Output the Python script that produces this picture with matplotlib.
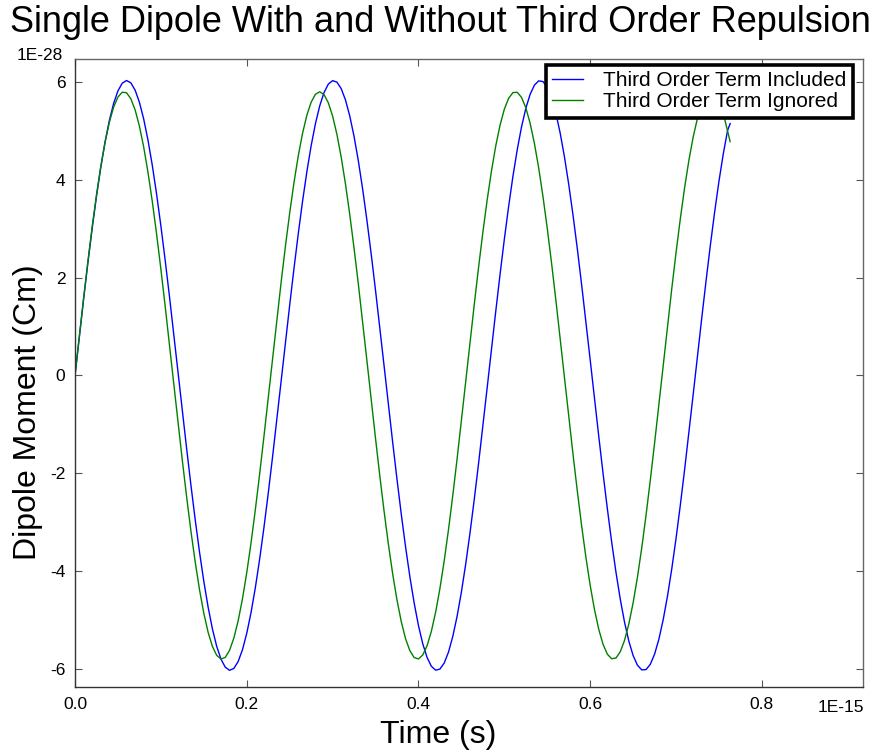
import matplotlib
matplotlib.use("Agg")
import matplotlib.pyplot as plt

plt.rcParams['font.family'] = ['Liberation Sans', 'DejaVu Sans']

# Time in units of 1E-15 s (sampling grid every 0.005, last sample 0.763)
time = [round(0.005 * i, 3) for i in range(153)] + [0.763]

# Dipole moment in units of 1E-28 C m
included = [
    0.000, 0.785, 1.556, 2.300, 3.006, 3.661, 4.252, 4.773, 5.212, 5.562,
    5.818, 5.975, 6.030, 5.983, 5.834, 5.586, 5.243, 4.811, 4.298, 3.710,
    3.060, 2.358, 1.617, 0.847, 0.063, -0.722, -1.495, -2.242, -2.951, -3.610,
    -4.208, -4.734, -5.180, -5.537, -5.801, -5.965, -6.029, -5.990, -5.850, -5.610,
    -5.274, -4.848, -4.342, -3.760, -3.115, -2.416, -1.677, -0.909, -0.126, 0.659,
    1.433, 2.183, 2.896, 3.560, 4.162, 4.695, 5.147, 5.512, 5.783, 5.956,
    6.028, 5.997, 5.865, 5.633, 5.304, 4.886, 4.385, 3.809, 3.169, 2.474,
    1.738, 0.972, 0.189, -0.596, -1.372, -2.124, -2.840, -3.508, -4.116, -4.654,
    -5.114, -5.486, -5.765, -5.946, -6.026, -6.003, -5.879, -5.655, -5.334, -4.923,
    -4.428, -3.858, -3.222, -2.531, -1.798, -1.034, -0.252, 0.533, 1.310, 2.065,
    2.784, 3.456, 4.070, 4.613, 5.080, 5.460, 5.746, 5.935, 6.023, 6.009,
    5.893, 5.676, 5.363, 4.958, 4.471, 3.906, 3.276, 2.589, 1.858, 1.096,
    0.316, -0.471, -1.249, -2.006, -2.728, -3.405, -4.023, -4.572, -5.046, -5.433,
    -5.727, -5.924, -6.020, -6.014, -5.906, -5.697, -5.392, -4.994, -4.513, -3.954,
    -3.328, -2.645, -1.918, -1.158, -0.379, 0.407, 1.187, 1.946, 2.672, 3.352,
    3.976, 4.532, 5.011, 5.150]

ignored = [
    0.000, 0.797, 1.579, 2.331, 3.039, 3.688, 4.269, 4.766, 5.177, 5.487,
    5.693, 5.791, 5.780, 5.659, 5.430, 5.099, 4.670, 4.153, 3.558, 2.895,
    2.176, 1.417, 0.631, -0.167, -0.962, -1.739, -2.483, -3.180, -3.816, -4.380,
    -4.861, -5.250, -5.539, -5.723, -5.798, -5.764, -5.620, -5.369, -5.017, -4.569,
    -4.035, -3.424, -2.748, -2.020, -1.254, -0.464, 0.335, 1.127, 1.898, 2.633,
    3.318, 3.941, 4.487, 4.950, 5.319, 5.586, 5.748, 5.800, 5.742, 5.576,
    5.304, 4.931, 4.464, 3.913, 3.287, 2.600, 1.863, 1.090, 0.297, -0.502,
    -1.291, -2.056, -2.781, -3.455, -4.062, -4.592, -5.036, -5.384, -5.629, -5.768,
    -5.797, -5.716, -5.527, -5.233, -4.840, -4.355, -3.787, -3.148, -2.449, -1.703,
    -0.925, -0.130, 0.668, 1.454, 2.212, 2.927, 3.587, 4.180, 4.693, 5.116,
    5.443, 5.667, 5.783, 5.789, 5.686, 5.474, 5.159, 4.746, 4.243, 3.659,
    3.006, 2.296, 1.543, 0.760, -0.038, -0.834, -1.615, -2.365, -3.071, -3.718,
    -4.294, -4.788, -5.193, -5.499, -5.700, -5.793, -5.777, -5.650, -5.417, -5.080,
    -4.648, -4.127, -3.528, -2.862, -2.141, -1.380, -0.593, 0.205, 0.999, 1.775,
    2.517, 3.211, 3.845, 4.405, 4.882, 5.265, 5.549, 5.729, 5.799, 5.759,
    5.610, 5.355, 4.998, 4.780]

series_labels = ["Third Order Term Included", "Third Order Term Ignored"]
x_ticks = [0.0, 0.2, 0.4, 0.6, 0.8]
y_ticks = [-6, -4, -2, 0, 2, 4, 6]

W, H = 876, 754
fig = plt.figure(figsize=(W / 100, H / 100), dpi=100)
ax = fig.add_axes([75 / W, 1 - 687 / H, (863 - 75) / W, (687 - 59) / H])

ax.plot(time, included, color='#0000ff', lw=1.0, label=series_labels[0])
ax.plot(time, ignored, color='#008000', lw=1.0, label=series_labels[1])

ax.set_xlim(0, 0.9177)
ax.set_ylim(-6.37, 6.47)
ax.set_xticks(x_ticks)
ax.set_xticklabels([f"{v:.1f}" for v in x_ticks])
ax.set_yticks(y_ticks)
ax.set_yticklabels([str(v) for v in y_ticks])
ax.tick_params(direction='in', length=5, width=0.8, color='#555555',
               top=True, right=True, labelsize=12.5, pad=7)
for name, s in ax.spines.items():
    s.set_color('#333333' if name in ('left', 'bottom') else '#666666')
    s.set_linewidth(1.0)

leg = ax.legend(loc='upper right', bbox_to_anchor=(853 / W, 1 - 65 / H),
                bbox_transform=fig.transFigure, borderaxespad=0,
                fontsize=15, frameon=True, fancybox=False, framealpha=1,
                edgecolor='black', handlelength=1.45, handletextpad=1.0,
                labelspacing=0.1, borderpad=0.3)
leg.get_frame().set_linewidth(2.6)

# offset labels
fig.text(63 / W, 1 - 55 / H, "1E-28", ha='right', va='center', fontsize=12.5)
fig.text(864 / W, 1 - 708 / H, "1E-15", ha='right', va='center', fontsize=12.5)

fig.text(440 / W, 1 - 22 / H, "Single Dipole With and Without Third Order Repulsion",
         ha='center', va='center', fontsize=26)
fig.text(28 / W, 1 - 412 / H, "Dipole Moment (Cm)", rotation=90,
         ha='center', va='center', fontsize=23)
fig.text(438 / W, 1 - 735 / H, "Time (s)", ha='center', va='center', fontsize=23)

fig.savefig("out.png", dpi=100)
